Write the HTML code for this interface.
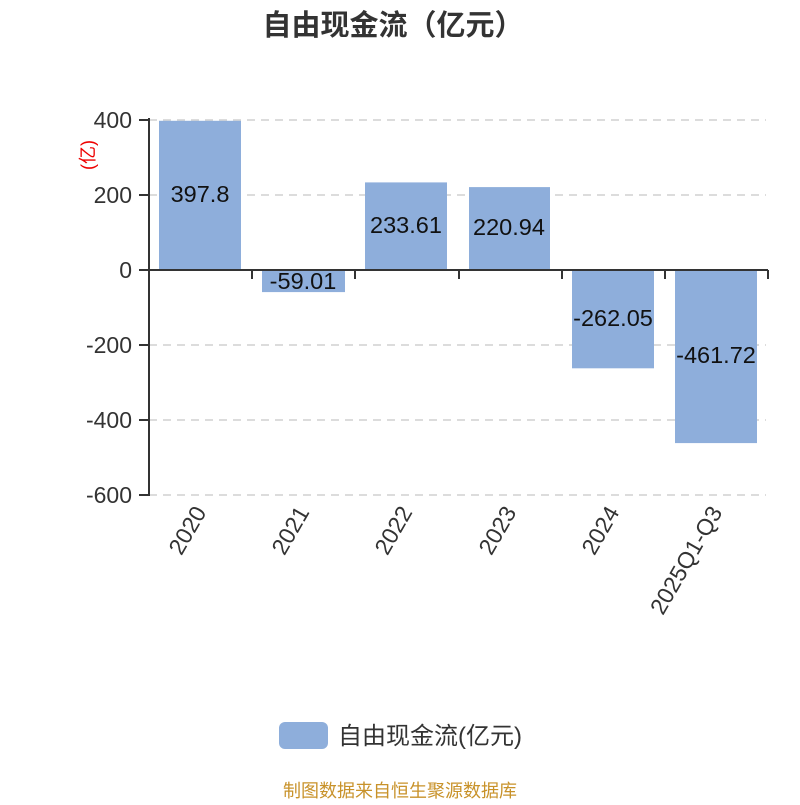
<!DOCTYPE html>
<html><head><meta charset="utf-8"><style>body{margin:0;background:#fff}</style></head><body>
<svg width="800" height="800" xmlns="http://www.w3.org/2000/svg" font-family="Liberation Sans, Noto Sans CJK SC, sans-serif">
<text x="393" y="35" text-anchor="middle" font-size="29" font-weight="bold" fill="#333">自由现金流（亿元）</text>
<g stroke="#c8c8c8" stroke-width="1.3" stroke-dasharray="8,6">
<line x1="149" y1="120" x2="766" y2="120"/><line x1="149" y1="195" x2="766" y2="195"/>
<line x1="149" y1="345" x2="766" y2="345"/><line x1="149" y1="420" x2="766" y2="420"/><line x1="149" y1="495" x2="766" y2="495"/>
</g>
<g fill="#8eaedb">
<rect x="159" y="120.8" width="82" height="149.2"/>
<rect x="262" y="270" width="83" height="22.1"/>
<rect x="365" y="182.4" width="82" height="87.6"/>
<rect x="469" y="187.1" width="81" height="82.9"/>
<rect x="572" y="270" width="82" height="98.3"/>
<rect x="675" y="270" width="82" height="173.1"/>
</g>
<g stroke="#333" stroke-width="2" fill="none">
<line x1="149" y1="118" x2="149" y2="496"/>
<line x1="139" y1="120" x2="149" y2="120"/><line x1="139" y1="195" x2="149" y2="195"/><line x1="139" y1="270" x2="149" y2="270"/>
<line x1="139" y1="345" x2="149" y2="345"/><line x1="139" y1="420" x2="149" y2="420"/><line x1="139" y1="495" x2="149" y2="495"/>
<line x1="149" y1="270" x2="768" y2="270"/>
<line x1="252" y1="270" x2="252" y2="279"/><line x1="355" y1="270" x2="355" y2="279"/><line x1="459" y1="270" x2="459" y2="279"/>
<line x1="562" y1="270" x2="562" y2="279"/><line x1="665" y1="270" x2="665" y2="279"/><line x1="768" y1="270" x2="768" y2="279"/>
</g>
<g font-size="23" fill="#333" text-anchor="end">
<text x="132" y="128">400</text><text x="132" y="203">200</text><text x="132" y="278">0</text>
<text x="132" y="353">-200</text><text x="132" y="428">-400</text><text x="132" y="503">-600</text>
</g>
<text transform="translate(94,155) rotate(-90)" text-anchor="middle" font-size="18" fill="#e00">(亿)</text>
<g font-size="23.5" fill="#111" text-anchor="middle">
<text x="200" y="202">397.8</text><text x="303" y="289">-59.01</text><text x="406" y="233">233.61</text>
<text x="509" y="235">220.94</text><text x="613" y="326">-262.05</text><text x="716" y="363">-461.72</text>
</g>
<g font-size="23" fill="#333" text-anchor="end">
<text transform="translate(207,512) rotate(-60)">2020</text>
<text transform="translate(310,512) rotate(-60)">2021</text>
<text transform="translate(413,512) rotate(-60)">2022</text>
<text transform="translate(517,512) rotate(-60)">2023</text>
<text transform="translate(620,512) rotate(-60)">2024</text>
<text transform="translate(723,512) rotate(-60)">2025Q1-Q3</text>
</g>
<rect x="279" y="722" width="49" height="27" rx="6" fill="#8eaedb"/>
<text x="338" y="744" font-size="24" fill="#333">自由现金流(亿元)</text>
<text x="400" y="797" text-anchor="middle" font-size="18" fill="#c8922a">制图数据来自恒生聚源数据库</text>
</svg>
</body></html>
